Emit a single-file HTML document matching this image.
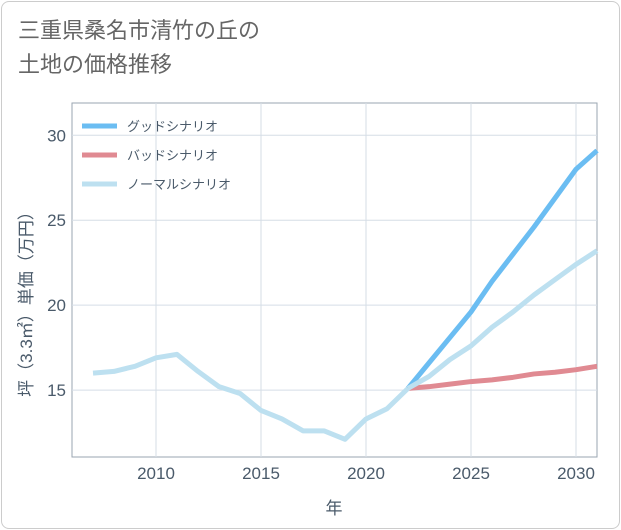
<!DOCTYPE html>
<html><head><meta charset="utf-8"><style>
body{margin:0;background:#fff;font-family:"Liberation Sans","Noto Sans CJK JP",sans-serif}
#wrap{position:relative;width:621px;height:530px}
.card{position:absolute;left:1px;top:1px;width:617px;height:526px;border:1px solid #ccc;border-radius:8px;background:#fff}
.title{position:absolute;left:18px;top:14px;font-size:22px;line-height:34px;color:#666}
</style></head><body>
<div id="wrap">
<div class="card"></div>
<div class="title">三重県桑名市清竹の丘の<br>土地の価格推移</div>
<svg id="chart" width="621" height="530" style="position:absolute;left:0;top:0"></svg>
</div>
<script>
const histYears=[2007,2008,2009,2010,2011,2012,2013,2014,2015,2016,2017,2018,2019,2020,2021,2022];
const histValues=[16.0,16.1,16.4,16.9,17.1,16.1,15.2,14.8,13.8,13.3,12.6,12.6,12.1,13.3,13.9,15.1];
const projYears=[2022,2023,2024,2025,2026,2027,2028,2029,2030,2031];
const goodValues=[15.1,16.6,18.1,19.6,21.4,23.0,24.6,26.3,28.0,29.1];
const badValues=[15.1,15.2,15.35,15.5,15.6,15.75,15.95,16.05,16.2,16.4];
const normalValues=[15.1,15.8,16.8,17.6,18.7,19.6,20.6,21.5,22.4,23.2];
const xTicks=[2010,2015,2020,2025,2030];
const yTicks=[15,20,25,30];
const legendLabels=["グッドシナリオ","バッドシナリオ","ノーマルシナリオ"];
const L=72,R=597,T=103,B=457,x0=2006,x1=2031,y0=11.06,y1=31.9;
const X=v=>L+(v-x0)/(x1-x0)*(R-L);
const Y=v=>B-(v-y0)/(y1-y0)*(B-T);
const svg=document.getElementById('chart');const NS='http://www.w3.org/2000/svg';
function mk(t,a,p){const e=document.createElementNS(NS,t);for(const k in a)e.setAttribute(k,a[k]);(p||svg).appendChild(e);return e;}
let e=mk('rect',{x:L,y:T,width:R-L,height:B-T,fill:'#fff',stroke:'#9aa5b1','stroke-width':1});

xTicks.forEach(t=>{let g=mk('line',{x1:X(t),x2:X(t),y1:T,y2:B,stroke:'#d5dde6','stroke-width':1});

let l=mk('text',{x:X(t),y:B+22,'text-anchor':'middle','font-size':17,fill:'#4a5a6a'});l.textContent=t;
});
yTicks.forEach(t=>{let g=mk('line',{x1:L,x2:R,y1:Y(t),y2:Y(t),stroke:'#d5dde6','stroke-width':1});

let l=mk('text',{x:L-6,y:Y(t)+6,'text-anchor':'end','font-size':17,fill:'#4a5a6a'});l.textContent=t;
});
function line(xs,ys,c,n){const p=mk('polyline',{points:xs.map((x,i)=>X(x)+','+Y(ys[i])).join(' '),fill:'none',stroke:c,'stroke-width':5,'stroke-linejoin':'round'});
}
line(projYears,goodValues,'#6bbdf2','good-scenario-line');
line(projYears,badValues,'#e08a92','bad-scenario-line');
line(projYears,normalValues,'#bde0f0','normal-scenario-line');
line(histYears,histValues,'#bde0f0','historical-line');
const lc=['#6bbdf2','#e08a92','#bde0f0'];
legendLabels.forEach((s,i)=>{const y=126+i*29;
let a=mk('line',{x1:82,x2:117,y1:y,y2:y,stroke:lc[i],'stroke-width':5});
let t=mk('text',{x:127,y:y+5,'font-size':13,fill:'#4a5a6a'});t.textContent=s;});
let xt=mk('text',{x:334,y:514,'text-anchor':'middle','font-size':17,fill:'#4a5a6a'});xt.textContent='年';

let yt=mk('text',{x:0,y:0,'text-anchor':'middle','font-size':17,fill:'#4a5a6a',transform:'translate(32,300) rotate(-90)'});yt.textContent='坪（3.3㎡）単価（万円）';

</script>
</body></html>
